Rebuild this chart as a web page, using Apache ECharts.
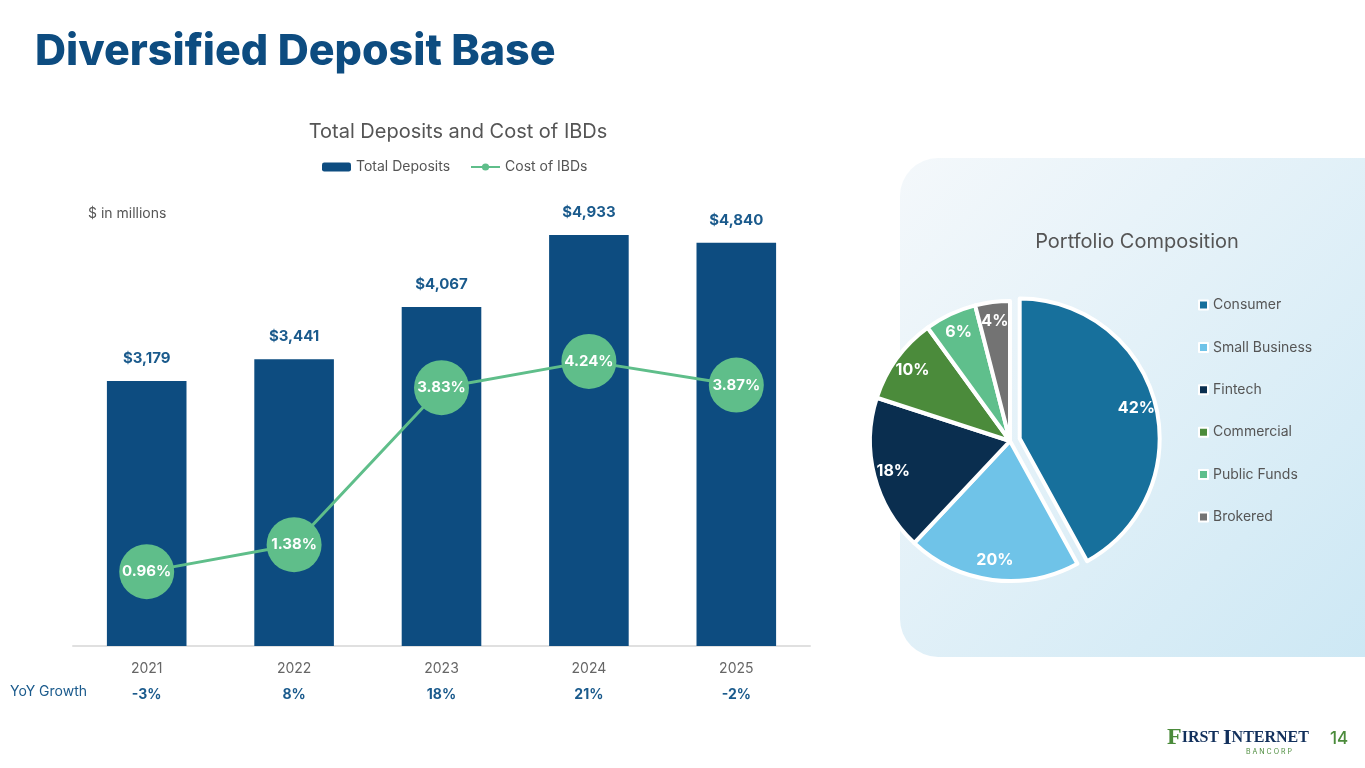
<!DOCTYPE html>
<html><head><meta charset="utf-8">
<script src="https://cdn.jsdelivr.net/npm/echarts@6/dist/echarts.min.js"></script>
<style>html,body{margin:0;padding:0;background:#fff;}#c{width:1365px;height:768px;}</style>
</head><body><div id="c"></div>
<script>
const years = ['2021','2022','2023','2024','2025'];
const totalDeposits = [3179, 3441, 4067, 4933, 4840];
const costOfIBDs = [0.96, 1.38, 3.83, 4.24, 3.87];
const yoyGrowth = ['-3%','8%','18%','21%','-2%'];
const portfolioNames = ['Consumer','Small Business','Fintech','Commercial','Public Funds','Brokered'];
const portfolioValues = [42, 20, 18, 10, 6, 4];
const portfolioColors = ['#17709c','#6fc3e8','#0a2e4f','#4b8b3b','#5fbf8c','#737373'];

const FONT = 'Inter, "Noto Sans", sans-serif';
const NAVY = '#0d4c80';
const GREEN = '#5fbe8a';

const chart = echarts.init(document.getElementById('c'), null, {renderer:'canvas'});
const pieData = portfolioNames.map((n,i)=>({name:n, value:portfolioValues[i], selected:i===0, itemStyle:{color:portfolioColors[i]}}));

chart.setOption({
  animation:false,
  textStyle:{fontFamily:FONT},
  graphic:[
    {type:'rect', z:-10, shape:{x:900,y:158,width:520,height:499,r:38},
     style:{fill:new echarts.graphic.LinearGradient(0,0,1,1,[{offset:0,color:'#f4f8fb'},{offset:1,color:'#cbe7f4'}])}},
    {type:'text', left:35, top:31, style:{text:'Diversified Deposit Base', fill:NAVY, font:'800 43px '+FONT}},
    {type:'text', left:88, top:207, style:{text:'$ in millions', fill:'#555', font:'400 14px '+FONT}},
    {type:'text', left:10, top:685, style:{text:'YoY Growth', fill:'#1a5a8c', font:'400 14px '+FONT}},
    {type:'text', left:1330, top:730, style:{text:'14', fill:'#4b8b3b', font:'500 17px '+FONT}},
    {type:'text', left:1167, top:726, style:{rich:{
        g:{fill:'#4b8b3b', font:'bold 24px "Liberation Serif", serif'},
        b:{fill:'#12305c', font:'bold 22px "Liberation Serif", serif'},
        s:{fill:'#12305c', font:'bold 16px "Liberation Serif", serif'}},
      text:'{g|F}{s|IRST }{b|I}{s|NTERNET}'}},
    {type:'text', left:1246, top:748, style:{text:'B A N C O R P', fill:'#4b8b3b', font:'400 7px '+FONT}}
  ],
  title:[
    {text:'Total Deposits and Cost of IBDs', left:453, top:117, textAlign:'center',
     textStyle:{fontSize:20, fontWeight:400, color:'#555', fontFamily:FONT}},
    {text:'Portfolio Composition', left:1132, top:227, textAlign:'center',
     textStyle:{fontSize:20, fontWeight:400, color:'#555', fontFamily:FONT}}
  ],
  legend:[
    {data:['Total Deposits','Cost of IBDs'], left:322, top:160, padding:0, itemGap:20, itemWidth:29, itemHeight:9,
     textStyle:{fontSize:14, color:'#555', fontFamily:FONT}},
    {data:portfolioNames, orient:'vertical', left:1198, top:298, padding:0, itemWidth:9, itemHeight:9, itemGap:28.4,
     icon:'rect', selectedMode:false, textStyle:{fontSize:14, color:'#555', fontFamily:FONT}}
  ],
  grid:{left:73, right:555, top:146, bottom:122},
  xAxis:[
    {type:'category', data:years, axisTick:{show:false}, axisLine:{lineStyle:{color:'#e0e0e0', width:2}},
     axisLabel:{color:'#666', fontSize:14, margin:16, fontFamily:FONT}},
    {type:'category', data:yoyGrowth, position:'bottom', offset:26, axisTick:{show:false}, axisLine:{show:false},
     axisLabel:{color:'#1a5a8c', fontSize:14, fontWeight:700, margin:16, fontFamily:FONT}}
  ],
  yAxis:[
    {type:'value', min:0, max:6000, show:false, splitLine:{show:false}},
    {type:'value', min:-0.2, max:7.6, show:false, splitLine:{show:false}}
  ],
  series:[
    {name:'Total Deposits', type:'bar', data:totalDeposits, barWidth:'54%', itemStyle:{color:NAVY},
     label:{show:true, position:'top', distance:15, color:'#1a5a8c', fontSize:15, fontWeight:700,
       fontFamily:FONT, formatter:p=>'$'+p.value.toLocaleString('en-US')}},
    {name:'Cost of IBDs', type:'line', yAxisIndex:1, data:costOfIBDs, symbol:'circle', symbolSize:55,
     itemStyle:{color:GREEN}, lineStyle:{color:GREEN, width:3},
     label:{show:true, position:'inside', color:'#fff', fontSize:15, fontWeight:700, fontFamily:FONT,
       formatter:p=>p.value.toFixed(2)+'%'}},
    {name:'portfolio', type:'pie', center:[1010,441], radius:140, startAngle:90, clockwise:true,
     selectedMode:'single', selectedOffset:10, data:pieData,
     itemStyle:{borderColor:'#fff', borderWidth:4}, label:{show:false}, labelLine:{show:false},
     emphasis:{disabled:true}},
    {name:'portfolioLabels', type:'pie', center:[1010,441], radius:[95,140], startAngle:90, clockwise:true,
     selectedMode:'single', selectedOffset:10, silent:true, z:5,
     data:pieData.map(d=>({name:d.name, value:d.value, selected:d.selected, itemStyle:{color:'rgba(0,0,0,0)'}})),
     itemStyle:{borderWidth:0}, labelLine:{show:false}, emphasis:{disabled:true},
     label:{show:true, position:'inside', color:'#fff', fontSize:16, fontWeight:700, fontFamily:FONT,
       formatter:p=>p.value+'%'}}
  ]
});
</script></body></html>
